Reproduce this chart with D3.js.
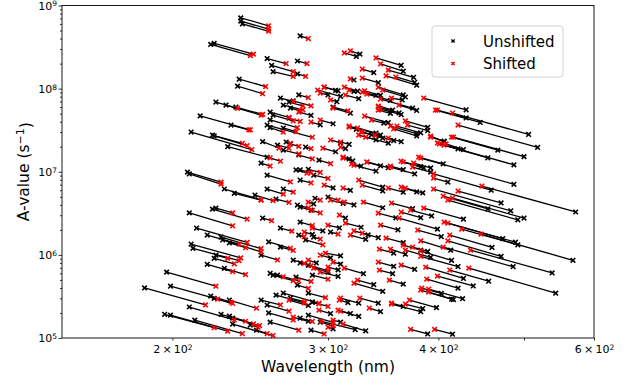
<!DOCTYPE html>
<html><head><meta charset="utf-8">
<script src="https://cdn.jsdelivr.net/npm/d3@7"></script>
<style>body{margin:0;background:#fff}svg{display:block}text{font-family:"DejaVu Sans",sans-serif}</style>
</head><body>
<svg id="c" width="639" height="387"></svg>
<script>
// Unshifted wavelength (nm) and A-value (s^-1)
const wlUnshifted = [
239,239,240,279,221,223,256,277,259,260,
277,238,237,224,230,236,215,258,260,258,
256,233,258,210,222,223,231,253,269,283,
271,274,278,209,208,229,235,248,222,224,
209,253,213,219,227,228,232,210,211,224,
223,219,229,197,186,199,221,223,209,196,
199,227,212,234,232,234,232,267,277,265,
278,279,289,257,265,252,258,260,263,274,
279,276,252,256,257,262,267,258,245,249,
256,252,263,256,276,279,285,289,304,272,
300,290,285,288,287,294,285,302,288,285,
323,326,363,365,338,375,378,376,321,342,
306,310,321,344,365,353,374,364,430,300,
308,307,318,355,363,378,351,446,430,506,
389,389,378,382,344,340,346,351,518,500,
467,455,487,406,427,487,405,317,314,306,
317,327,344,365,382,392,572,568,543,538,
483,500,492,471,455,427,473,489,492,460,
486,471,414,413,456,438,427,421,426,414,
403,398,382,384,415,389,342,344,325,322,
331,325,318,365,329,338,346,365,416,392,
382,367,356,421,399,360,342,333,382,393,
374,346,321,346,365,378,384,358,327,331,
365,403,389,376,356,355,459,340,351,376,
385,392,346,410,325,340,367,361,353,347,
378,363,356,406,421,
272,288,285,285,304,316,310,300,308,310,
302,310,308,256,262,289,279,287,312,314,
309,288,296,283,318,324,323,336,340,320,
267,272,265,271,287,267,294,278,293,304,
279,267,310,304,291,277,279,302];
const aUnshifted = [
7.1e8,6.5e8,6.0e8,4.3e8,3.4e8,3.5e8,2.3e8,2.15e8,1.9e8,1.6e8,
1.5e8,1.3e8,1.07e8,6.9e7,6.35e7,6.0e7,4.7e7,5.2e7,4.8e7,4.2e7,
3.65e7,3.65e7,3.4e7,3.0e7,2.76e7,2.7e7,2.0e7,2.3e7,2.28e7,1.98e7,
6.9e7,7.1e7,8.4e7,9.4e6,9.9e6,6.2e6,5.5e6,5.24e6,3.55e6,3.65e6,
3.2e6,2.77e6,2.1e6,1.73e6,1.64e6,1.51e6,1.39e6,1.35e6,1.2e6,9.9e5,
9.1e5,7.7e5,6.9e5,6.2e5,4.0e5,4.2e5,3.2e5,3.0e5,2.36e5,1.93e5,
1.88e5,1.93e5,1.64e5,1.47e5,1.83e5,1.73e5,2.86e5,6.2e6,3.97e6,2.1e6,
1.73e6,2.48e6,1.64e6,1.43e6,1.24e6,9.9e5,6.0e5,5.7e5,5.7e5,8.65e5,
8.0e5,5.4e5,2.86e5,2.49e5,2.0e5,3.28e5,3.47e5,1.55e5,1.43e5,1.24e5,
1.5e7,1.27e7,2.09e7,9.1e6,1.05e7,1.05e7,1.07e7,9.1e6,6.0e7,2.16e7,
4.96e6,4.8e6,3.47e5,2.7e5,1.24e5,1.55e5,1.88e5,1.88e6,5.7e5,7.5e5,
2.44e8,2.6e8,1.91e8,1.62e8,1.56e8,1.37e8,1.1e8,1.19e8,1.27e8,1.18e8,
9.5e7,8.05e7,9.26e7,8.3e7,8.4e7,7.2e7,5.84e7,7.3e7,5.56e7,8.4e7,
9.4e7,6.96e7,5.07e7,5.53e7,4.87e7,5.47e7,3.91e7,3.92e7,4.44e7,2.81e7,
3.43e7,3.13e7,2.88e7,2.94e7,2.76e7,2.92e7,2.53e7,2.21e7,1.96e7,1.52e7,
1.82e7,1.47e7,1.21e7,2.33e7,1.85e7,7.07e6,1.24e7,2.14e7,1.9e7,1.74e7,
1.43e7,1.17e7,1.18e7,1.06e7,1.15e7,1.11e7,3.28e6,8.6e5,3.46e5,6.07e5,
3.39e6,2.77e6,2.64e6,4.22e6,3.58e6,2.69e6,1.57e6,1.42e6,1.32e6,1.23e6,
7.2e5,9.6e5,8.6e5,1.14e6,4.83e5,4.23e5,5.2e5,3.98e5,2.97e5,2.93e5,
3.44e5,2.32e5,2.07e5,2.26e5,1.11e5,1.12e5,2.63e5,2.08e5,1.82e5,1.26e5,
1.22e5,2.63e5,1.97e5,2.4e5,5.94e5,4.39e5,3.65e5,4.46e5,2.9e5,9.35e5,
1.14e6,1.02e6,1.05e6,7.24e5,2.04e6,2.0e6,1.61e6,1.74e6,2.8e6,2.94e6,
3.61e6,3.69e6,3.99e6,5.87e6,5.67e6,5.73e6,5.57e6,2.79e6,2.15e6,1.54e6,
1.4e6,1.66e6,1.1e6,6.7e5,7.28e5,5.93e5,6.0e6,1.02e7,1.12e7,9.4e6,
1.11e7,9.9e6,6.53e6,7.51e6,7.56e7,8.3e7,7.93e7,5.1e7,5.05e7,3.85e7,
2.7e7,2.3e7,2.37e7,2.3e7,1.89e7,
3.02e5,2.71e5,2.46e5,1.59e5,1.29e5,2.67e5,1.55e5,6.2e5,5.52e5,9.75e5,
9.2e5,7.74e5,6.6e5,6.19e6,4.69e6,4.12e6,3.76e6,3.46e6,4.16e6,2.77e6,
2.11e6,1.76e6,1.95e6,1.51e6,5.97e6,9.36e7,3.24e7,2.78e7,2.42e7,1.35e7,
6.35e7,5.84e7,7.7e7,4.43e7,4.76e7,3.36e7,3.67e7,1.59e7,1.38e7,6.4e6,
7.94e6,1.82e7,2.23e7,3.78e7,8.0e5,4.33e5,1.73e5,1.97e5];
// Shifted wavelength (nm) and A-value (s^-1)
const wlShifted = [
257,257,257,285,245,247,269,284,274,274,
283,255,253,252,237,253,245,271,274,277,
288,244,267,246,240,243,258,264,272,287,
281,287,285,227,227,252,252,260,243,234,
234,259,243,238,252,252,242,239,238,231,
235,234,242,224,218,225,233,234,235,223,
231,242,240,260,247,251,249,274,285,273,
282,288,294,272,274,263,267,274,278,282,
287,287,265,271,274,282,293,278,250,256,
265,258,271,272,284,287,294,300,316,278,
308,294,298,300,297,304,304,308,300,300,
313,318,340,344,328,351,349,358,318,328,
297,292,317,330,342,332,344,354,385,294,
297,302,304,342,344,361,330,397,399,415,
367,369,353,359,317,324,327,325,421,416,
414,401,406,392,408,382,380,310,310,296,
312,319,332,353,363,375,448,447,433,435,
395,415,410,421,405,385,410,406,425,412,
405,410,382,382,412,399,387,388,390,382,
383,371,354,367,396,372,326,334,310,295,
312,310,308,354,313,324,321,352,390,367,
365,353,343,382,361,344,328,321,363,372,
354,329,313,328,351,363,367,342,314,318,
349,379,374,363,342,343,395,321,332,353,
365,374,325,395,314,328,346,342,342,336,
356,351,339,392,399,
282,293,271,274,300,309,304,289,294,298,
294,304,300,267,271,285,288,294,302,309,
300,282,288,296,312,313,317,328,331,312,
281,279,274,279,278,276,287,288,302,297,
287,278,302,294,285,285,288,293];
const aShifted = [
5.7e8,5.2e8,4.9e8,4.0e8,2.5e8,2.6e8,2.0e8,2.0e8,1.6e8,1.4e8,
1.4e8,1.06e8,8.7e7,4.8e7,5.8e7,4.9e7,3.2e7,4.5e7,4.1e7,3.4e7,
2.6e7,3.2e7,3.0e7,1.85e7,2.2e7,2.06e7,1.47e7,1.93e7,2.19e7,1.9e7,
6.2e7,6.2e7,7.8e7,7.1e6,7.5e6,4.6e6,4.56e6,4.5e6,2.7e6,3.2e6,
2.24e6,2.58e6,1.41e6,1.35e6,1.19e6,1.09e6,1.22e6,9.2e5,8.5e5,9.1e5,
7.8e5,6.3e5,5.8e5,4.2e5,2.5e5,2.94e5,2.7e5,2.6e5,1.65e5,1.33e5,
1.21e5,1.59e5,1.13e5,1.07e5,1.48e5,1.41e5,2.28e5,5.7e6,3.67e6,1.93e6,
1.66e6,2.25e6,1.55e6,1.2e6,1.13e6,8.7e5,5.45e5,4.9e5,4.85e5,7.9e5,
7.4e5,4.8e5,2.5e5,2.1e5,1.65e5,2.64e5,2.62e5,1.24e5,1.35e5,1.13e5,
1.34e7,1.17e7,1.92e7,7.55e6,9.6e6,9.7e6,9.8e6,8.3e6,5.4e7,2.02e7,
4.55e6,4.56e6,3.06e5,2.4e5,1.12e5,1.40e5,1.54e5,1.78e6,5.1e5,6.45e5,
2.69e8,2.84e8,2.34e8,1.98e8,1.72e8,1.67e8,1.42e8,1.38e8,1.31e8,1.34e8,
1.04e8,9.6e7,9.62e7,9.4e7,1.04e8,8.6e7,7.5e7,7.7e7,7.7e7,8.85e7,
1.04e8,7.3e7,5.84e7,6.18e7,5.68e7,6.35e7,4.68e7,5.53e7,5.53e7,5.09e7,
4.08e7,3.65e7,3.55e7,3.55e7,3.55e7,3.36e7,3.01e7,2.76e7,3.65e7,2.61e7,
2.61e7,2.16e7,2.09e7,2.61e7,2.16e7,1.46e7,1.5e7,2.28e7,1.98e7,1.92e7,
1.5e7,1.24e7,1.31e7,1.17e7,1.34e7,1.27e7,6.73e6,1.78e6,6.93e5,1.14e6,
6.19e6,4.82e6,4.56e6,5.86e6,5.1e6,3.65e6,2.41e6,2.48e6,2.04e6,1.73e6,
1.24e6,1.47e6,1.11e6,1.47e6,6.56e5,5.55e5,7.1e5,5.11e5,3.88e5,3.77e5,
3.98e5,2.86e5,2.56e5,2.56e5,1.27e5,1.27e5,3.02e5,2.29e5,2.1e5,1.59e5,
1.47e5,3.02e5,2.16e5,2.63e5,6.93e5,4.97e5,4.57e5,4.97e5,3.57e5,1.14e6,
1.31e6,1.17e6,1.17e6,9.6e5,2.77e6,2.28e6,1.83e6,1.94e6,3.27e6,3.46e6,
4.2e6,4.31e6,4.31e6,6.92e6,6.37e6,6.55e6,6.37e6,3.18e6,2.41e6,1.73e6,
1.59e6,1.99e6,1.24e6,7.53e5,8.2e5,6.56e5,9.4e6,1.2e7,1.31e7,1.14e7,
1.31e7,1.14e7,7.94e6,8.39e6,8.38e7,9.1e7,9.62e7,6.0e7,5.53e7,4.19e7,
3.27e7,2.54e7,2.76e7,2.69e7,2.22e7,
2.73e5,2.58e5,2.86e5,1.78e5,1.35e5,2.86e5,1.64e5,6.93e5,6.2e5,1.05e6,
9.94e5,8.18e5,7.12e5,5.39e6,4.27e6,4.31e6,3.42e6,3.2e6,4.56e6,3.01e6,
2.28e6,1.88e6,2.1e6,1.32e6,6.37e6,1.04e8,3.45e7,3.01e7,2.61e7,1.46e7,
5.56e7,5.41e7,7.0e7,4.03e7,5.23e7,3.03e7,3.96e7,1.43e7,1.25e7,6.92e6,
7.34e6,1.64e7,2.41e7,4.19e7,8.65e5,3.95e5,1.58e5,2.16e5];

const xTickValues = [200, 300, 400, 500, 600];
const xTickMantissas = ["2", "3", "4", "", "6"];
const yTickValues = [1e5, 1e6, 1e7, 1e8, 1e9];
const yTickExponents = ["5", "6", "7", "8", "9"];
const seriesNames = ["Unshifted", "Shifted"];
const seriesColors = ["#000000", "#ff0000"];

const svg = d3.select("#c");
const L = 62, R = 594, T = 5.5, B = 338;
const x = d3.scaleLog().domain([150, 600]).range([L, R]);
const y = d3.scaleLog().domain([1e5, 1e9]).range([B, T]);

svg.append("rect").attr("width", 639).attr("height", 387).attr("fill", "#fff");

const segs = wlUnshifted.map((w, i) => ({xu: w, au: aUnshifted[i], xs: wlShifted[i], as: aShifted[i]}));

svg.append("clipPath").attr("id", "clip").append("rect")
  .attr("x", L).attr("y", T).attr("width", R - L).attr("height", B - T);

const plot = svg.append("g").attr("clip-path", "url(#clip)");
plot.append("g").selectAll("line").data(segs).join("line")
  .attr("x1", d => x(d.xu)).attr("y1", d => y(d.au))
  .attr("x2", d => x(d.xs)).attr("y2", d => y(d.as))
  .attr("stroke", "#000").attr("stroke-width", 1.3);

const cross = s => `M${-s},${-s}L${s},${s}M${-s},${s}L${s},${-s}`;
plot.append("g").selectAll("path").data(segs).join("path")
  .attr("transform", d => `translate(${x(d.xu)},${y(d.au)})`)
  .attr("d", cross(2.3)).attr("stroke", seriesColors[0]).attr("stroke-width", 1.6).attr("fill", "none");
plot.append("g").selectAll("path").data(segs).join("path")
  .attr("transform", d => `translate(${x(d.xs)},${y(d.as)})`)
  .attr("d", cross(2.3)).attr("stroke", seriesColors[1]).attr("stroke-width", 1.6).attr("fill", "none");

// frame
svg.append("rect").attr("x", L).attr("y", T).attr("width", R - L).attr("height", B - T)
  .attr("fill", "none").attr("stroke", "#000").attr("stroke-width", 0.9);

// y axis
const yMinor = [];
for (let e = 5; e < 9; e++) for (let k = 2; k <= 9; k++) yMinor.push(k * Math.pow(10, e));
const gyMinor = svg.append("g").attr("transform", `translate(${L},0)`)
  .call(d3.axisLeft(y).tickValues(yMinor).tickSize(2).tickSizeOuter(0).tickFormat(() => ""));
gyMinor.select(".domain").remove();
const gy = svg.append("g").attr("transform", `translate(${L},0)`)
  .call(d3.axisLeft(y).tickValues(yTickValues).tickSize(3.5).tickSizeOuter(0).tickPadding(1.5).tickFormat(() => ""));
gy.select(".domain").remove();
svg.selectAll(".tick line").attr("stroke", "#000").attr("stroke-width", 0.8);
gy.selectAll(".tick text").each(function(d, i) {
  const t = d3.select(this).attr("font-size", 11).attr("font-family", "DejaVu Sans").attr("fill", "#000").attr("dy", "0.35em");
  t.append("tspan").text("10");
  t.append("tspan").attr("dy", "-0.45em").attr("font-size", 7.5).text(yTickExponents[i]);
});

// x axis
const gx = svg.append("g").attr("transform", `translate(0,${B})`)
  .call(d3.axisBottom(x).tickValues(xTickValues).tickSize(2.5).tickSizeOuter(0).tickPadding(5).tickFormat(() => ""));
gx.select(".domain").remove();
gx.selectAll(".tick line").attr("stroke", "#000").attr("stroke-width", 0.8);
gx.selectAll(".tick text").each(function(d, i) {
  if (!xTickMantissas[i]) return;
  const t = d3.select(this).attr("font-size", 11).attr("font-family", "DejaVu Sans").attr("fill", "#000");
  t.append("tspan").text(xTickMantissas[i] + "\u2009\u00d7\u200910");
  t.append("tspan").attr("dy", "-0.45em").attr("font-size", 7.5).text("2");
});

// axis labels
svg.append("text").attr("x", (L + R) / 2).attr("y", 372).attr("text-anchor", "middle")
  .attr("font-size", 15.5).text("Wavelength (nm)");
const yl = svg.append("text").attr("transform", `translate(29,${(T + B) / 2}) rotate(-90)`)
  .attr("text-anchor", "middle").attr("font-size", 15.5);
yl.append("tspan").text("A-value (s");
yl.append("tspan").attr("dy", "-0.45em").attr("font-size", 11).text("\u22121");
yl.append("tspan").attr("dy", "0.45em").text(")");

// legend
const lg = svg.append("g");
lg.append("rect").attr("x", 432).attr("y", 26).attr("width", 131).attr("height", 51).attr("rx", 3)
  .attr("fill", "#fff").attr("fill-opacity", 0.8).attr("stroke", "#cccccc").attr("stroke-width", 0.9);
seriesNames.forEach((n, i) => {
  const cy = 41 + i * 22.5;
  lg.append("path").attr("transform", `translate(453,${cy})`).attr("d", cross(1.6))
    .attr("stroke", seriesColors[i]).attr("stroke-width", 1.4).attr("fill", "none");
  lg.append("text").attr("x", 483).attr("y", cy + 5.5).attr("font-size", 15).attr("fill", "#000").text(n);
});
</script>
</body></html>
